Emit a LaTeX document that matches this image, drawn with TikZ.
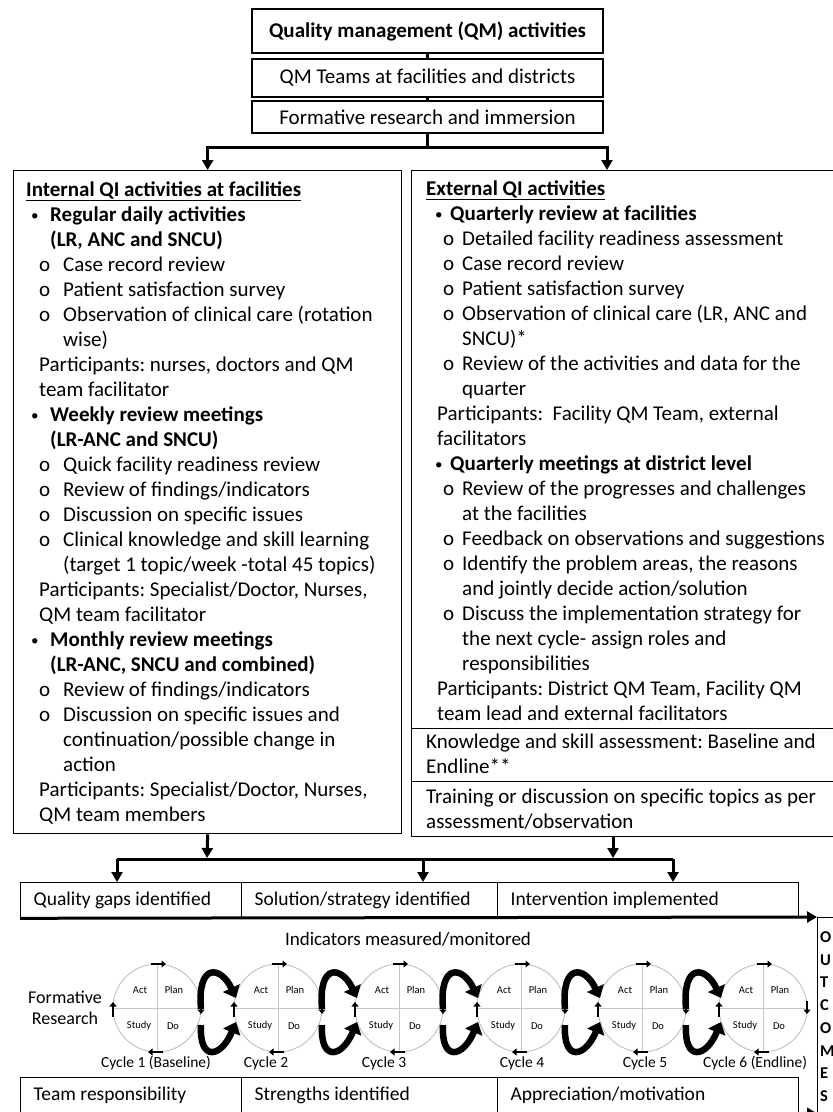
\documentclass[tikz,border=0pt]{standalone}
\usepackage{fontspec}
\setmainfont{Carlito}
\usetikzlibrary{arrows.meta}
\frenchspacing
\newcommand\fsA{\fontsize{21}{25}\selectfont}
\newcommand\fsB{\fontsize{19.5}{23}\selectfont}
\newcommand\bul{\raisebox{0.12ex}{\fontsize{15}{15}\selectfont\textbullet}}
\newcommand\BL[3]{\hspace*{#1pt}\makebox[\dimexpr#2pt-#1pt\relax][l]{\bul}\textbf{#3}\par}
\newcommand\SB[3]{\hspace*{#1pt}\makebox[\dimexpr#2pt-#1pt\relax][l]{o}#3\par}
\newcommand\IN[2]{\hspace*{#1pt}#2\par}
\newcommand\TXT{\fsA\parindent=0pt\parskip=0pt\raggedright\strut}
\begin{document}
\begin{tikzpicture}[x=1pt,y=-1pt,
  box/.style={draw, line width=1.3pt, inner sep=0pt},
  conn/.style={line width=3pt},
  arr/.style={line width=3pt,-{Triangle[length=10pt,width=11pt]}},
  lbl/.style={inner sep=0pt},
  pd/.style={inner sep=0pt, font=\fontsize{10.5}{12}\selectfont},
  cyc/.style={draw=gray!55, line width=0.8pt},
  ax/.style={draw=gray!45, line width=1pt},
  sarr/.style={line width=2.6pt,-{Triangle[length=4.5pt,width=7pt]}},
  carr/.style={line width=6.5pt,-{Triangle[length=11pt,width=18pt]}},
  rowbox/.style={box, anchor=north west, minimum height=35pt, inner xsep=13pt, align=flush left, font=\fsB}
]
\useasboundingbox (0,0) rectangle (833,1112);
\clip (0,0) rectangle (833,1112);
\fill[white] (0,0) rectangle (833,1112);

% top boxes
\node[box, minimum width=351pt, minimum height=44pt, font=\fsA\bfseries] (qm) at (427.5,31) {Quality management (QM) activities};
\node[box, minimum width=351pt, minimum height=38pt, font=\fsA] (qmt) at (427.5,78) {QM Teams at facilities and districts};
\node[box, minimum width=351pt, minimum height=32pt, font=\fsA] (fr) at (427.5,117) {Formative research and immersion};
\draw[conn] (qm) -- (qmt);
\draw[conn] (qmt) -- (fr);
\coordinate (sp) at (427.5,147);
\coordinate (rin) at (607,170);
\draw[conn] (fr) -- (sp);

% main boxes
\node[box, minimum width=388pt, minimum height=663pt, anchor=north west] (lbox) at (13,170) {};
\node[box, minimum width=425pt, minimum height=558pt, anchor=north west] (rbox) at (411,170) {};
\node[box, minimum width=425pt, minimum height=53pt, anchor=north west] (kbox) at (411,728) {};
\node[box, minimum width=425pt, minimum height=55pt, anchor=north west] (tbox) at (411,781) {};
\draw[arr] (sp) -| (lbox.north);
\draw[arr] (sp) -| (rin);

\node[lbl, anchor=north west] (ltxt) at (26,178.5) {\parbox[t]{380pt}{\TXT
\textbf{\underline{Internal QI activities at facilities}}\par
\BL{5}{24}{Regular daily activities}
\IN{24}{\textbf{(LR, ANC and SNCU)}}
\SB{13}{37}{Case record review}
\SB{13}{37}{Patient satisfaction survey}
\SB{13}{37}{Observation of clinical care (rotation}
\IN{37}{wise)}
\IN{13}{Participants: nurses, doctors and QM}
\IN{13}{team facilitator}
\BL{5}{24}{Weekly review meetings}
\IN{24}{\textbf{(LR-ANC and SNCU)}}
\SB{13}{37}{Quick facility readiness review}
\SB{13}{37}{Review of findings/indicators}
\SB{13}{37}{Discussion on specific issues}
\SB{13}{37}{Clinical knowledge and skill learning}
\IN{37}{(target 1 topic/week -total 45 topics)}
\IN{13}{Participants: Specialist/Doctor, Nurses,}
\IN{13}{QM team facilitator}
\BL{5}{24}{Monthly review meetings}
\IN{24}{\textbf{(LR-ANC, SNCU and combined)}}
\SB{13}{37}{Review of findings/indicators}
\SB{13}{37}{Discussion on specific issues and}
\IN{37}{continuation/possible change in}
\IN{37}{action}
\IN{13}{Participants: Specialist/Doctor, Nurses,}
\IN{13}{QM team members}}};

\node[lbl, anchor=north west] (rtxt) at (426,177.5) {\parbox[t]{405pt}{\TXT
\textbf{\underline{External QI activities}}\par
\BL{9}{24}{Quarterly review at facilities}
\SB{17}{36}{Detailed facility readiness assessment}
\SB{17}{36}{Case record review}
\SB{17}{36}{Patient satisfaction survey}
\SB{17}{36}{Observation of clinical care (LR, ANC and}
\IN{36}{SNCU)*}
\SB{17}{36}{Review of the activities and data for the}
\IN{36}{quarter}
\IN{11}{Participants:\ \ Facility QM Team, external}
\IN{11}{facilitators}
\BL{9}{24}{Quarterly meetings at district level}
\SB{17}{36}{Review of the progresses and challenges}
\IN{36}{at the facilities}
\SB{17}{36}{Feedback on observations and suggestions}
\SB{17}{36}{Identify the problem areas, the reasons}
\IN{36}{and jointly decide action/solution}
\SB{17}{36}{Discuss the implementation strategy for}
\IN{36}{the next cycle- assign roles and}
\IN{36}{responsibilities}
\IN{11}{Participants: District QM Team, Facility QM}
\IN{11}{team lead and external facilitators}}};

\node[lbl, anchor=north west] (ktxt) at (426,730.5) {\parbox[t]{405pt}{\TXT
Knowledge and skill assessment: Baseline and\par
Endline**}};
\node[lbl, anchor=north west] (ttxt) at (426,785.5) {\parbox[t]{405pt}{\TXT
Training or discussion on specific topics as per\par
assessment/observation}};

% lower connectors
\coordinate (jl) at (207,858);
\coordinate (jr) at (613,858);
\coordinate (hl) at (117,859);
\coordinate (hm) at (423,859);
\coordinate (hr) at (673,859);
\coordinate (tr) at (613,836);
\draw[arr] (lbox.south) -- (jl);
\draw[arr] (tr) -- (jr);
\draw[conn] (hl) -- (hr);

% row 1
\node[rowbox, text width=195pt] (r1a) at (20,882) {Quality gaps identified};
\node[rowbox, text width=230pt] (r1b) at (241,882) {Solution/strategy identified};
\node[rowbox, text width=275pt] (r1c) at (497,882) {Intervention implemented};
\draw[arr] (hl) -- (hl |- r1a.north);
\draw[arr] (hm) -- (hm |- r1b.north);
\draw[arr] (hr) -- (hr |- r1c.north);

% outcomes
\node[box, anchor=north west, minimum width=30pt, minimum height=220pt] (out) at (817,917) {};
\node[lbl, anchor=north west, align=left, font=\fontsize{16.5}{22.7}\selectfont\bfseries] (outtxt) at (820,931.5) {O\\U\\T\\C\\O\\M\\E\\S};
\draw[arr] (r1a.south west) -- (out.north west);

% indicators
\node[lbl, anchor=base, font=\fontsize{19}{22}\selectfont] (ind) at (408,945) {Indicators measured/monitored};
\node[lbl, align=center, font=\fontsize{18}{21.5}\selectfont] (form) at (65,1008) {Formative\\Research};

% PDSA cycles
\foreach \i/\cx/\lx/\lt in {1/157/156/Cycle 1 (Baseline), 2/278/266/Cycle 2, 3/399/384/Cycle 3, 4/521/522/Cycle 4, 5/642/645/Cycle 5, 6/763/755/Cycle 6 (Endline)}{
  \node[circle, cyc, minimum size=88pt, inner sep=0pt, outer sep=0pt] (c\i) at (\cx,1008) {};
  \draw[ax] (c\i.west) -- (c\i.east);
  \draw[ax] (c\i.north) -- (c\i.south);
  \node[pd] (act\i) at (\cx-17,990) {Act};
  \node[pd] (plan\i) at (\cx+17,990) {Plan};
  \node[pd] (study\i) at (\cx-18,1026) {Study};
  \node[pd] (do\i) at (\cx+16,1026) {Do};
  \draw[sarr] (\cx-6,964) -- (\cx+9,964);
  \draw[sarr] (\cx+44,1001) -- (\cx+44,1014);
  \draw[sarr] (\cx+6,1052) -- (\cx-9,1052);
  \draw[sarr] (\cx-44,1017) -- (\cx-44,1002);
  \node[lbl, anchor=base, font=\fontsize{15.5}{18}\selectfont] (cl\i) at (\lx,1067) {\lt};
}
\foreach \i/\cx in {1/157, 2/278, 3/399, 4/521, 5/642}{
  \draw[carr] (\cx+44,1009) .. controls (\cx+40,962) and (\cx+64,966) .. (\cx+79,998);
  \draw[carr] (\cx+44,1025) .. controls (\cx+42,1062) and (\cx+64,1058) .. (\cx+79,1022);
}

% row 2
\node[rowbox, text width=195pt] (r2a) at (20,1077) {Team responsibility};
\node[rowbox, text width=230pt] (r2b) at (241,1077) {Strengths identified};
\node[rowbox, text width=275pt] (r2c) at (497,1077) {Appreciation/motivation};
\draw[arr] (r2a.south west) -- (r2a.south west -| out.west);
\end{tikzpicture}
\end{document}
